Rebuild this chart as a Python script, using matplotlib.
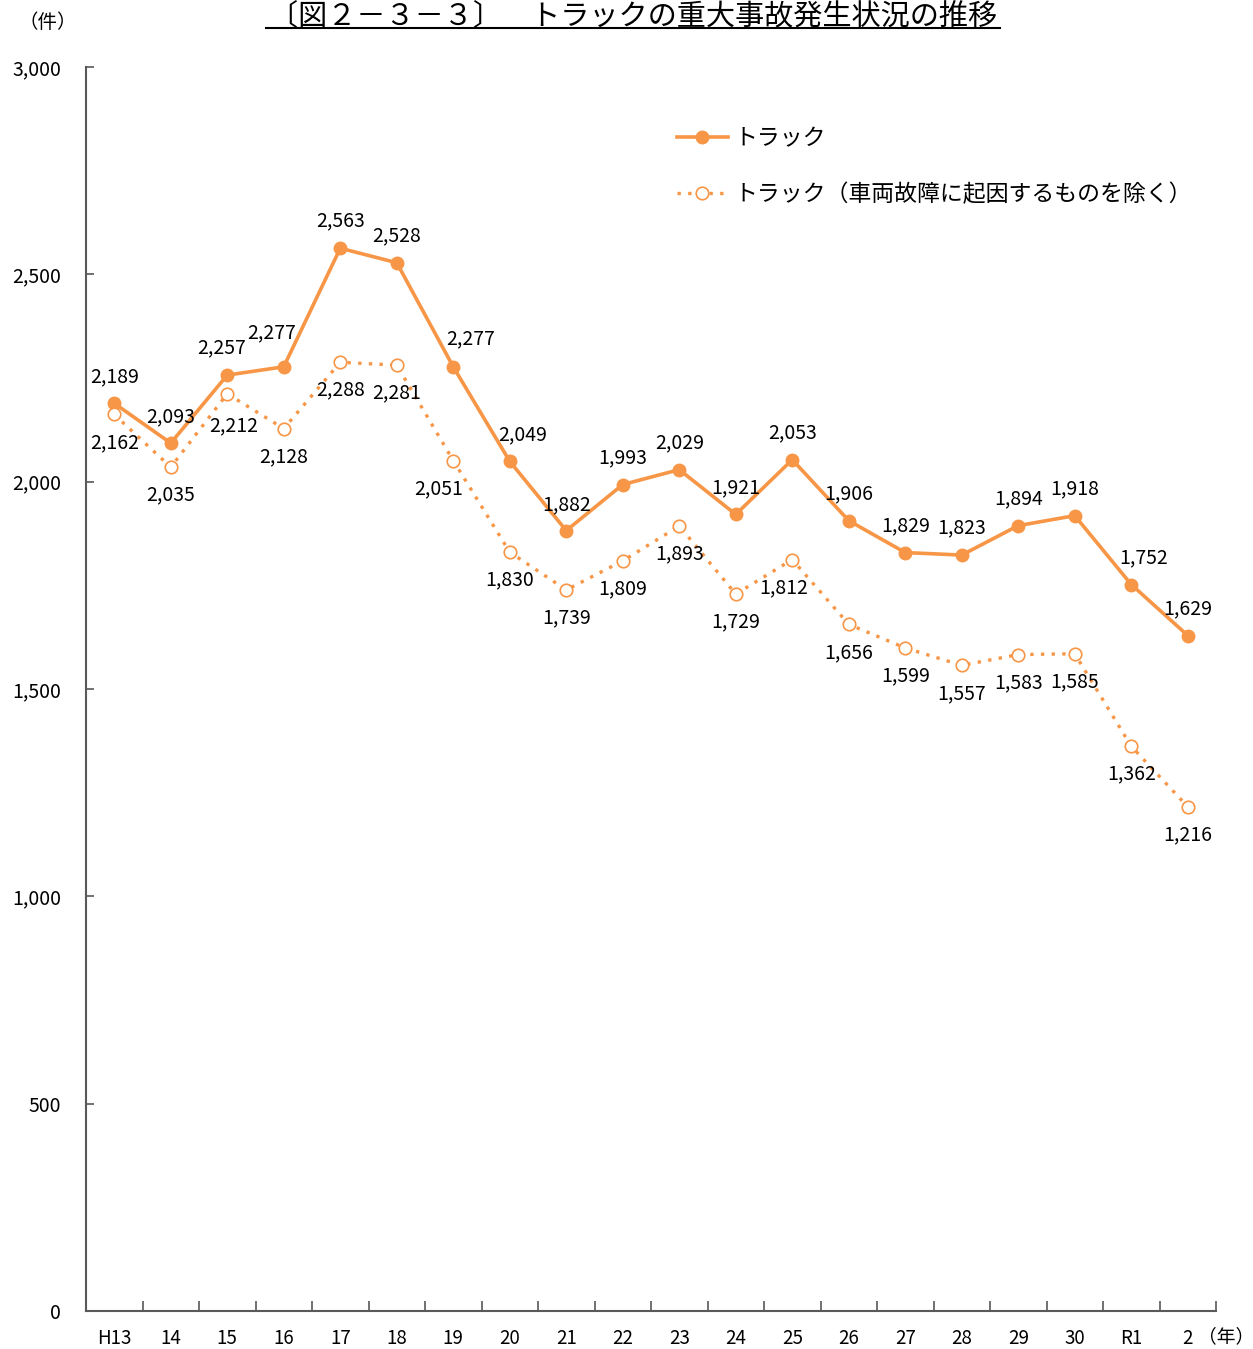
import matplotlib
matplotlib.use("Agg")
import matplotlib.pyplot as plt
from matplotlib.ticker import FuncFormatter, FixedLocator
import numpy as np

plt.rcParams['font.family'] = ['Noto Sans CJK JP', 'DejaVu Sans']

years = ["H13", "14", "15", "16", "17", "18", "19", "20", "21", "22",
         "23", "24", "25", "26", "27", "28", "29", "30", "R1", "2"]
truck = [2189, 2093, 2257, 2277, 2563, 2528, 2277, 2049, 1882, 1993,
         2029, 1921, 2053, 1906, 1829, 1823, 1894, 1918, 1752, 1629]
truck_excl = [2162, 2035, 2212, 2128, 2288, 2281, 2051, 1830, 1739, 1809,
              1893, 1729, 1812, 1656, 1599, 1557, 1583, 1585, 1362, 1216]

# label offsets in pixels (dx, dy) relative to point; dy positive = up
off_truck = [(0, 26), (0, 26), (-6, 27), (-12, 34), (0, 27), (0, 27), (17, 28), (13, 27),
             (0, 26), (0, 27), (0, 27), (0, 27), (0, 27), (0, 27), (0, 27), (0, 27),
             (0, 27), (0, 27), (12, 27), (0, 27)]
off_excl = [(0, -28), (0, -28), (6, -32), (0, -28), (0, -28), (0, -28), (-15, -28), (0, -28),
            (0, -28), (0, -28), (0, -28), (0, -28), (-9, -28), (0, -28), (0, -28), (0, -28),
            (0, -28), (0, -28), (0, -28), (0, -28)]

color = "#F79646"
W, H = 1253, 1349
fig = plt.figure(figsize=(W / 100, H / 100), dpi=100)
ax = fig.add_axes([86 / W, 1 - 1311 / H, (1216 - 86) / W, (1311 - 67) / H])

x = np.arange(len(years)) + 0.5
l1, = ax.plot(x, truck, color=color, lw=2.6, marker='o', ms=9, mfc=color, mec=color,
              label="トラック", zorder=3)
l2, = ax.plot(x, truck_excl, color=color, lw=2.4, ls=(0, (1, 2.2)), marker='o', ms=9,
              mfc='white', mec=color, mew=1.2, label="トラック（車両故障に起因するものを除く）", zorder=3)

for xi, v, (dx, dy) in zip(x, truck, off_truck):
    ax.annotate(f"{v:,}", (xi, v), xytext=(dx * 0.72, dy * 0.72), textcoords='offset points',
                ha='center', va='center', fontsize=14, color='black')
for xi, v, (dx, dy) in zip(x, truck_excl, off_excl):
    ax.annotate(f"{v:,}", (xi, v), xytext=(dx * 0.72, dy * 0.72), textcoords='offset points',
                ha='center', va='center', fontsize=14, color='black')

ax.set_xlim(0, len(years))
ax.set_ylim(0, 3000)
ax.set_yticks(np.arange(0, 3001, 500))
ax.yaxis.set_major_formatter(FuncFormatter(lambda v, p: f"{int(v):,}"))
ax.xaxis.set_major_locator(FixedLocator(np.arange(0, len(years) + 1)))
ax.xaxis.set_major_formatter(FuncFormatter(lambda v, p: ""))
ax.xaxis.set_minor_locator(FixedLocator(x))
ax.set_xticklabels(years, minor=True)
ax.tick_params(axis='x', which='major', direction='in', length=7, width=1.2, color='#595959')
ax.tick_params(axis='x', which='minor', length=0, pad=12, labelsize=13.5)
ax.tick_params(axis='y', direction='in', length=6, width=1.2, color='#595959', pad=18, labelsize=14)
for s in ['top', 'right']:
    ax.spines[s].set_visible(False)
for s in ['left', 'bottom']:
    ax.spines[s].set_color('#595959')
    ax.spines[s].set_linewidth(1.5)

leg = fig.legend(handles=[l1, l2], loc='upper left', bbox_to_anchor=(668 / W, 1 - 118 / H),
                 frameon=False, fontsize=16.5, labelspacing=1.45, handlelength=2.2,
                 handletextpad=0.3, borderaxespad=0)

fig.text(633 / W, 1 - 24 / H, "〔図２－３－３〕　トラックの重大事故発生状況の推移",
         ha='center', va='baseline', fontsize=21)
fig.add_artist(plt.Line2D([266 / W, 1000 / W], [1 - 28 / H, 1 - 28 / H], color='black', lw=1.5))
fig.text(48 / W, 1 - 23 / H, "（件）", ha='center', va='center', fontsize=14)
fig.text(1226 / W, 1 - 1337 / H, "（年）", ha='center', va='center', fontsize=13.5)

fig.savefig("out.png", dpi=100)
